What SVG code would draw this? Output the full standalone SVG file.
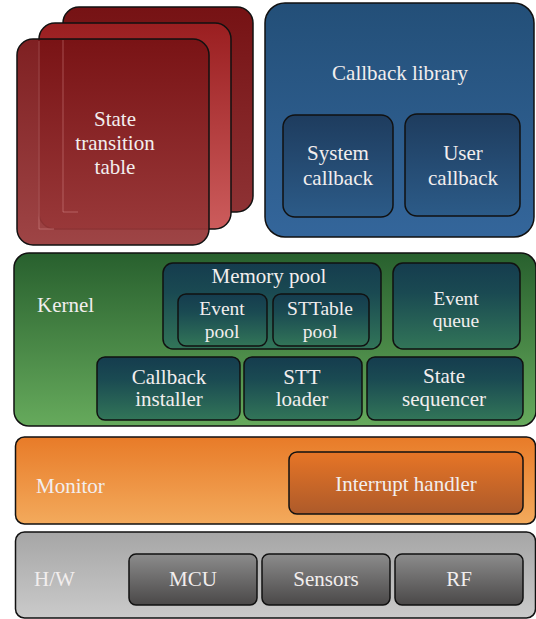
<svg xmlns="http://www.w3.org/2000/svg" width="536" height="619" viewBox="0 0 536 619">
  <defs>
    <linearGradient id="gRedBack" x1="0" y1="0" x2="0" y2="1">
      <stop offset="0" stop-color="#761214"/>
      <stop offset="1" stop-color="#8e3234"/>
    </linearGradient>
    <linearGradient id="gRedMid" x1="0" y1="0" x2="0" y2="1">
      <stop offset="0" stop-color="#9a1e20"/>
      <stop offset="1" stop-color="#cc5c5c"/>
    </linearGradient>
    <linearGradient id="gRedFront" x1="0" y1="0" x2="0" y2="1">
      <stop offset="0" stop-color="#771214"/>
      <stop offset="1" stop-color="#98393a"/>
    </linearGradient>
    <linearGradient id="gBlue" x1="0" y1="0" x2="0" y2="1">
      <stop offset="0" stop-color="#234f78"/>
      <stop offset="1" stop-color="#34669b"/>
    </linearGradient>
    <linearGradient id="gBlueIn" x1="0" y1="0" x2="0" y2="1">
      <stop offset="0" stop-color="#1e3c5e"/>
      <stop offset="1" stop-color="#2c5b88"/>
    </linearGradient>
    <linearGradient id="gGreen" x1="0" y1="0" x2="0" y2="1">
      <stop offset="0" stop-color="#28602e"/>
      <stop offset="1" stop-color="#66aa5c"/>
    </linearGradient>
    <linearGradient id="gTeal" x1="0" y1="0" x2="0" y2="1">
      <stop offset="0" stop-color="#153c4e"/>
      <stop offset="0.35" stop-color="#1a4a52"/>
      <stop offset="1" stop-color="#327558"/>
    </linearGradient>
    <linearGradient id="gOrange" x1="0" y1="0" x2="0" y2="1">
      <stop offset="0" stop-color="#e87b28"/>
      <stop offset="1" stop-color="#f3aa5c"/>
    </linearGradient>
    <linearGradient id="gOrangeIn" x1="0" y1="0" x2="0" y2="1">
      <stop offset="0" stop-color="#e77526"/>
      <stop offset="1" stop-color="#ad5a2a"/>
    </linearGradient>
    <linearGradient id="gGray" x1="0" y1="0" x2="0" y2="1">
      <stop offset="0" stop-color="#a6a6a6"/>
      <stop offset="1" stop-color="#cacaca"/>
    </linearGradient>
    <linearGradient id="gGrayIn" x1="0" y1="0" x2="0" y2="1">
      <stop offset="0" stop-color="#8c8c8c"/>
      <stop offset="1" stop-color="#4a4848"/>
    </linearGradient>
  </defs>
  <style>
    .box { stroke: #111; stroke-width: 1.5; }
    text { font-family: 'Liberation Serif', 'Times New Roman', serif; font-size: 21px; fill: #f2eeee; text-anchor: middle; }
    text.lft { text-anchor: start; }
    text.sm { font-size: 19.5px; }
    .ghost { fill: none; stroke: #e8a0a0; stroke-width: 0.8; opacity: 0.5; }
  </style>

  <!-- State transition table: stacked cards -->
  <g id="state-transition-table">
    <rect class="box" x="63" y="7" width="190" height="205" rx="16" fill="url(#gRedBack)"/>
    <rect class="box" x="39" y="23" width="192" height="206" rx="16" fill="url(#gRedMid)"/>
    <rect class="box" x="17" y="39" width="192" height="206" rx="16" fill="url(#gRedFront)" fill-opacity="0.94"/>
    <path class="ghost" d="M63 40 V212 H78 M39 41 V229 H54"/>
    <text x="115" y="126">State</text>
    <text x="115" y="150">transition</text>
    <text x="115" y="174">table</text>
  </g>

  <!-- Callback library -->
  <g id="callback-library">
    <rect class="box" x="265" y="3" width="269" height="234" rx="20" fill="url(#gBlue)"/>
    <text x="400" y="80">Callback library</text>
  </g>
  <g id="system-callback">
    <rect class="box" x="283" y="115" width="110" height="102" rx="12" fill="url(#gBlueIn)"/>
    <text x="338" y="160">System</text>
    <text x="338" y="185">callback</text>
  </g>
  <g id="user-callback">
    <rect class="box" x="405" y="114" width="115" height="102" rx="12" fill="url(#gBlueIn)"/>
    <text x="463" y="160">User</text>
    <text x="463" y="185">callback</text>
  </g>

  <!-- Kernel layer -->
  <g id="kernel">
    <rect class="box" x="14" y="253" width="522" height="173" rx="15" fill="url(#gGreen)"/>
    <text class="lft" x="37" y="312">Kernel</text>
  </g>
  <g id="memory-pool">
    <rect class="box" x="163" y="263" width="218" height="86" rx="10" fill="url(#gTeal)"/>
    <text x="269" y="283">Memory pool</text>
  </g>
  <g id="event-pool">
    <rect class="box" x="178" y="294" width="89" height="52" rx="8" fill="url(#gTeal)"/>
    <text class="sm" x="222" y="315">Event</text>
    <text class="sm" x="222" y="338">pool</text>
  </g>
  <g id="sttable-pool">
    <rect class="box" x="273" y="294" width="96" height="52" rx="8" fill="url(#gTeal)"/>
    <text class="sm" x="320" y="315">STTable</text>
    <text class="sm" x="320" y="338">pool</text>
  </g>
  <g id="event-queue">
    <rect class="box" x="393" y="263" width="127" height="86" rx="10" fill="url(#gTeal)"/>
    <text class="sm" x="456" y="305">Event</text>
    <text class="sm" x="456" y="327">queue</text>
  </g>
  <g id="callback-installer">
    <rect class="box" x="97" y="357" width="143" height="63" rx="8" fill="url(#gTeal)"/>
    <text x="169" y="384">Callback</text>
    <text x="169" y="406">installer</text>
  </g>
  <g id="stt-loader">
    <rect class="box" x="244" y="357" width="118" height="63" rx="8" fill="url(#gTeal)"/>
    <text x="302" y="384">STT</text>
    <text x="302" y="406">loader</text>
  </g>
  <g id="state-sequencer">
    <rect class="box" x="367" y="357" width="156" height="63" rx="8" fill="url(#gTeal)"/>
    <text x="444" y="383">State</text>
    <text x="444" y="406">sequencer</text>
  </g>

  <!-- Monitor layer -->
  <g id="monitor">
    <rect class="box" x="15.5" y="437" width="520" height="87" rx="9" fill="url(#gOrange)"/>
    <text class="lft" x="36" y="493">Monitor</text>
  </g>
  <g id="interrupt-handler">
    <rect class="box" x="289" y="452" width="234" height="62" rx="8" fill="url(#gOrangeIn)"/>
    <text x="406" y="491">Interrupt handler</text>
  </g>

  <!-- Hardware layer -->
  <g id="hardware">
    <rect class="box" x="15.5" y="532" width="520" height="86" rx="9" fill="url(#gGray)"/>
    <text class="lft" x="34" y="586">H/W</text>
  </g>
  <g id="mcu">
    <rect class="box" x="129" y="554" width="128" height="51" rx="7" fill="url(#gGrayIn)"/>
    <text x="193" y="586">MCU</text>
  </g>
  <g id="sensors">
    <rect class="box" x="262" y="554" width="128" height="51" rx="7" fill="url(#gGrayIn)"/>
    <text x="326" y="586">Sensors</text>
  </g>
  <g id="rf">
    <rect class="box" x="395" y="554" width="128" height="51" rx="7" fill="url(#gGrayIn)"/>
    <text x="459" y="586">RF</text>
  </g>
</svg>
